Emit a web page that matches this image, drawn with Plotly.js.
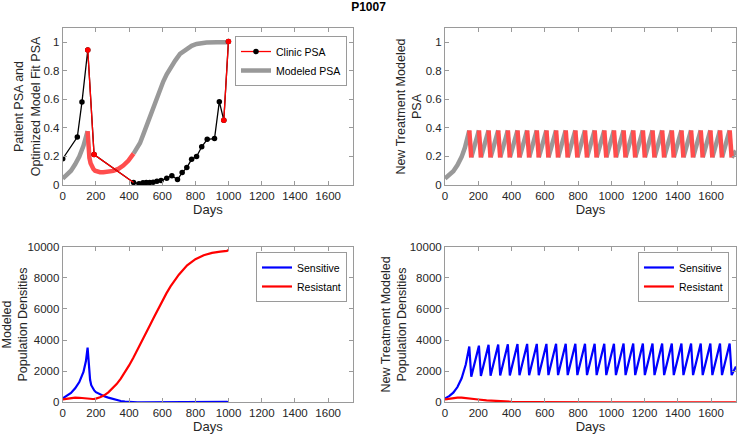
<!DOCTYPE html>
<html>
<head>
<meta charset="utf-8">
<script src="https://cdn.plot.ly/plotly-3.0.1.min.js"></script>
<style>
  html, body { margin: 0; padding: 0; background: #fff; }
  #chart { width: 737px; height: 435px; }
</style>
</head>
<body>
<div id="chart"></div>
<script>
// chart data -----------------------------------------------------

// top left: clinic PSA points
var clinicDays = [0, 88, 116, 151, 189, 427, 460, 484, 504, 524, 545, 568, 593, 627, 658, 692, 720, 748, 777, 807, 838, 871, 915, 944, 971, 999];
var clinicPsa = [0.184, 0.336, 0.581, 0.946, 0.213, 0.018, 0.009, 0.016, 0.018, 0.018, 0.02, 0.026, 0.031, 0.048, 0.065, 0.038, 0.087, 0.122, 0.18, 0.2, 0.268, 0.32, 0.325, 0.584, 0.454, 1.005];
// treatment segments (red) of the clinic line, null = gap
var clinicTxDays = [151, 189, 427, null, 971, 999];
var clinicTxPsa = [0.946, 0.213, 0.018, null, 0.454, 1.005];
var clinicTxMarkDays = [151, 189, 971, 999];
var clinicTxMarkPsa = [0.946, 0.213, 0.454, 1.005];

// top left: modeled PSA, off treatment (gray) and on treatment (red)
var fitOffDays = [0, 25, 50, 75, 100, 125, 140, 150, null, 427, 447, 466, 486, 506, 526, 546, 566, 586, 606, 627, 652, 677, 707, 747, 777, 807, 867, 930, 1000];
var fitOffPsa = [0.045, 0.068, 0.1, 0.145, 0.2, 0.275, 0.335, 0.378, null, 0.22, 0.255, 0.294, 0.355, 0.42, 0.487, 0.553, 0.615, 0.67, 0.725, 0.776, 0.826, 0.87, 0.918, 0.953, 0.975, 0.988, 0.998, 1.0, 1.0];
var fitOnDays = [150, 153, 156, 161, 168, 175, 185, 195, 205, 225, 245, 275, 305, 335, 365, 395, 427];
var fitOnPsa = [0.378, 0.31, 0.255, 0.19, 0.152, 0.13, 0.112, 0.1, 0.094, 0.09, 0.089, 0.092, 0.099, 0.113, 0.136, 0.17, 0.22];

// top right: new treatment modeled PSA
var newRiseDays = [0, 25, 50, 75, 100, 120, 135, 146];
var newRisePsa = [0.045, 0.068, 0.097, 0.14, 0.197, 0.262, 0.33, 0.382];
var newPeakDays = [146, 204, 262, 320, 378, 436, 494, 552, 610, 668, 726, 784, 842, 900, 958, 1016, 1074, 1132, 1190, 1248, 1306, 1364, 1422, 1480, 1538, 1596, 1654, 1712];
var newTroughDays = [158, 216, 274, 332, 390, 448, 506, 564, 622, 680, 738, 796, 854, 912, 970, 1028, 1086, 1144, 1202, 1260, 1318, 1376, 1434, 1492, 1550, 1608, 1666, 1724];
var newPeakPsa = 0.383;
var newTroughPsa = 0.193;
var newEndDay = 1750;
var newEndPsa = 0.24;

// bottom left: modeled population densities
var popDays = [0, 25, 50, 75, 100, 125, 140, 150, 155, 160, 165, 172, 180, 190, 200, 225, 250, 275, 300, 325, 350, 375, 400, 425, 450, 475, 500, 525, 550, 575, 600, 625, 650, 675, 700, 750, 800, 850, 900, 950, 990, 1000];
var popSensitive = [250, 400, 600, 900, 1300, 1950, 2650, 3520, 2700, 1950, 1450, 1100, 900, 760, 650, 500, 390, 300, 210, 140, 80, 40, 15, 5, 3, 3, 5, 8, 12, 16, 20, 24, 28, 32, 35, 38, 40, 40, 38, 35, 30, 0];
var popResistant = [190, 240, 280, 300, 290, 260, 230, 210, 205, 200, 202, 205, 212, 222, 235, 320, 450, 640, 880, 1170, 1520, 1920, 2370, 2850, 3350, 3870, 4400, 4930, 5470, 6000, 6520, 7000, 7450, 7850, 8200, 8800, 9200, 9450, 9600, 9680, 9730, 9800];

// bottom right: new treatment modeled population densities
var newSensRiseDays = [0, 25, 50, 75, 100, 125, 146];
var newSensRise = [250, 395, 620, 980, 1540, 2430, 3580];
var newSensPeaks = [3580, 3640, 3690, 3710, 3730, 3740, 3750, 3750, 3750, 3760, 3760, 3760, 3760, 3760, 3760, 3760, 3770, 3770, 3770, 3770, 3770, 3770, 3770, 3770, 3770, 3770, 3770, 3780];
var newSensTroughs = [1650, 1690, 1710, 1720, 1730, 1740, 1740, 1740, 1750, 1750, 1750, 1750, 1750, 1750, 1750, 1750, 1750, 1750, 1750, 1750, 1750, 1750, 1750, 1750, 1750, 1750, 1750, 1750];
var newSensEnd = 2300;
var newResDays = [0, 25, 50, 75, 100, 125, 150, 200, 250, 300, 350, 400, 500, 600, 800, 1000, 1750];
var newResistant = [190, 240, 275, 295, 300, 280, 250, 180, 120, 80, 55, 35, 18, 8, 3, 1, 0];

// tick labels
var dayTicks = [0, 200, 400, 600, 800, 1000, 1200, 1400, 1600];
var psaTicks = [0, 0.2, 0.4, 0.6, 0.8, 1];
var psaTickText = ['0', '0.2', '0.4', '0.6', '0.8', '1'];
var popTicks = [0, 2000, 4000, 6000, 8000, 10000];
var popTickText = ['0', '2000', '4000', '6000', '8000', '10000'];

// build the sawtooth paths from the read peak / trough points -----
var sawOffX = newRiseDays.slice(), sawOffY = newRisePsa.slice();
var sawOnX = [], sawOnY = [];
var sensX = newSensRiseDays.slice(), sensY = newSensRise.slice();
for (var i = 0; i < newPeakDays.length; i++) {
    // red: peak -> trough
    sawOnX.push(newPeakDays[i], newTroughDays[i], null);
    sawOnY.push(newPeakPsa, newTroughPsa, null);
    // gray: trough -> next peak
    sawOffX.push(null, newTroughDays[i]);
    sawOffY.push(null, newTroughPsa);
    if (i + 1 < newPeakDays.length) {
        sawOffX.push(newPeakDays[i + 1]);
        sawOffY.push(newPeakPsa);
    } else {
        sawOffX.push(newEndDay);
        sawOffY.push(newEndPsa);
    }
    if (i > 0) {
        sensX.push(newPeakDays[i]);
        sensY.push(newSensPeaks[i]);
    }
    sensX.push(newTroughDays[i]);
    sensY.push(newSensTroughs[i]);
}
sensX.push(newEndDay);
sensY.push(newSensEnd);

// colours
var gray = '#999999';
var lightRed = '#ff4d4d';
var red = '#ff0000';
var blue = '#0000ff';
var font = 'Liberation Sans, Arial, Helvetica, sans-serif';

var traces = [
    // top left
    { x: fitOffDays, y: fitOffPsa, xaxis: 'x', yaxis: 'y', mode: 'lines', name: 'Modeled PSA',
      line: { color: gray, width: 4.5 }, showlegend: false, connectgaps: false },
    { x: fitOnDays, y: fitOnPsa, xaxis: 'x', yaxis: 'y', mode: 'lines',
      line: { color: lightRed, width: 4.5 }, showlegend: false },
    { x: clinicDays, y: clinicPsa, xaxis: 'x', yaxis: 'y', mode: 'lines+markers',
      line: { color: '#000', width: 1.3 }, marker: { color: '#000', size: 5.5 }, showlegend: false },
    { x: clinicTxDays, y: clinicTxPsa, xaxis: 'x', yaxis: 'y', mode: 'lines',
      line: { color: red, width: 1.3 }, showlegend: false, connectgaps: false },
    { x: clinicTxMarkDays, y: clinicTxMarkPsa, xaxis: 'x', yaxis: 'y', mode: 'markers',
      marker: { color: red, size: 5.5 }, showlegend: false },
    // legend entries for top left
    { x: [null], y: [null], xaxis: 'x', yaxis: 'y', mode: 'lines+markers', name: 'Clinic PSA',
      line: { color: red, width: 1.3 }, marker: { color: '#000', size: 5.5 }, legend: 'legend' },
    { x: [null], y: [null], xaxis: 'x', yaxis: 'y', mode: 'lines', name: 'Modeled PSA',
      line: { color: gray, width: 4.5 }, legend: 'legend' },

    // top right
    { x: sawOffX, y: sawOffY, xaxis: 'x2', yaxis: 'y2', mode: 'lines',
      line: { color: gray, width: 4.5 }, showlegend: false, connectgaps: false },
    { x: sawOnX, y: sawOnY, xaxis: 'x2', yaxis: 'y2', mode: 'lines',
      line: { color: lightRed, width: 4.5 }, showlegend: false, connectgaps: false },

    // bottom left
    { x: popDays, y: popSensitive, xaxis: 'x3', yaxis: 'y3', mode: 'lines', name: 'Sensitive',
      line: { color: blue, width: 2.2 }, legend: 'legend2' },
    { x: popDays, y: popResistant, xaxis: 'x3', yaxis: 'y3', mode: 'lines', name: 'Resistant',
      line: { color: red, width: 2.2 }, legend: 'legend2' },

    // bottom right
    { x: sensX, y: sensY, xaxis: 'x4', yaxis: 'y4', mode: 'lines', name: 'Sensitive',
      line: { color: blue, width: 2.2 }, legend: 'legend3' },
    { x: newResDays, y: newResistant, xaxis: 'x4', yaxis: 'y4', mode: 'lines', name: 'Resistant',
      line: { color: red, width: 2.2 }, legend: 'legend3' }
];

// shared axis styles
function xStyle(domain, anchor) {
    return {
        domain: domain, anchor: anchor, range: [0, 1750], tickvals: dayTicks,
        ticks: 'inside', ticklen: 4, tickcolor: '#9a9a9a', showline: true, linecolor: '#9a9a9a',
        linewidth: 1, mirror: 'ticks', showgrid: false, zeroline: false,
        tickfont: { family: font, size: 11.5, color: '#262626' },
        title: { text: 'Days', font: { family: font, size: 13, color: '#262626' }, standoff: 2 }
    };
}
function yStyle(domain, anchor, title, ticks, text, range, standoff) {
    return {
        domain: domain, anchor: anchor, range: range, tickvals: ticks, ticktext: text,
        ticks: 'inside', ticklen: 4, tickcolor: '#9a9a9a', showline: true, linecolor: '#9a9a9a',
        linewidth: 1, mirror: 'ticks', showgrid: false, zeroline: false,
        tickfont: { family: font, size: 11.5, color: '#262626' },
        title: { text: title, font: { family: font, size: 12.5, color: '#262626' }, standoff: standoff }
    };
}
function legendStyle(x, y) {
    return {
        x: x, y: y, xanchor: 'right', yanchor: 'top', xref: 'paper', yref: 'paper',
        bgcolor: '#fff', bordercolor: '#9a9a9a', borderwidth: 1,
        font: { family: font, size: 10.5, color: '#000' }, tracegroupgap: 0,
        itemwidth: 30, traceorder: 'normal'
    };
}

var leftDom = [0.0851, 0.479];
var rightDom = [0.6038, 0.9986];
var topDom = [0.5747, 0.9356];
var botDom = [0.0752, 0.4329];

var layout = {
    width: 737, height: 435,
    margin: { l: 0, r: 0, t: 0, b: 0 },
    paper_bgcolor: '#fff', plot_bgcolor: '#fff',
    font: { family: font, color: '#262626' },
    title: { text: '<b>P1007</b>', x: 0.5, xanchor: 'center', y: 0.984, yanchor: 'middle',
             font: { family: font, size: 12, color: '#000' } },
    xaxis: xStyle(leftDom, 'y'),
    yaxis: yStyle(topDom, 'x', 'Patient PSA and<br>Optimized Model Fit PSA', psaTicks, psaTickText, [0, 1.1], 0),
    xaxis2: xStyle(rightDom, 'y2'),
    yaxis2: yStyle(topDom, 'x2', 'New Treatment Modeled<br>PSA', psaTicks, psaTickText, [0, 1.1], 1),
    xaxis3: xStyle(leftDom, 'y3'),
    yaxis3: yStyle(botDom, 'x3', 'Modeled<br>Population Densities', popTicks, popTickText, [0, 10000], 4),
    xaxis4: xStyle(rightDom, 'y4'),
    yaxis4: yStyle(botDom, 'x4', 'New Treatment Modeled<br>Population Densities', popTicks, popTickText, [0, 10000], 0),
    legend: legendStyle(0.4708, 0.9172),
    legend2: legendStyle(0.4708, 0.4207),
    legend3: legendStyle(0.9891, 0.4207)
};

var config = {
    displayModeBar: false,
    responsive: false
};

Plotly.newPlot('chart', traces, layout, config);
</script>
</body>
</html>
